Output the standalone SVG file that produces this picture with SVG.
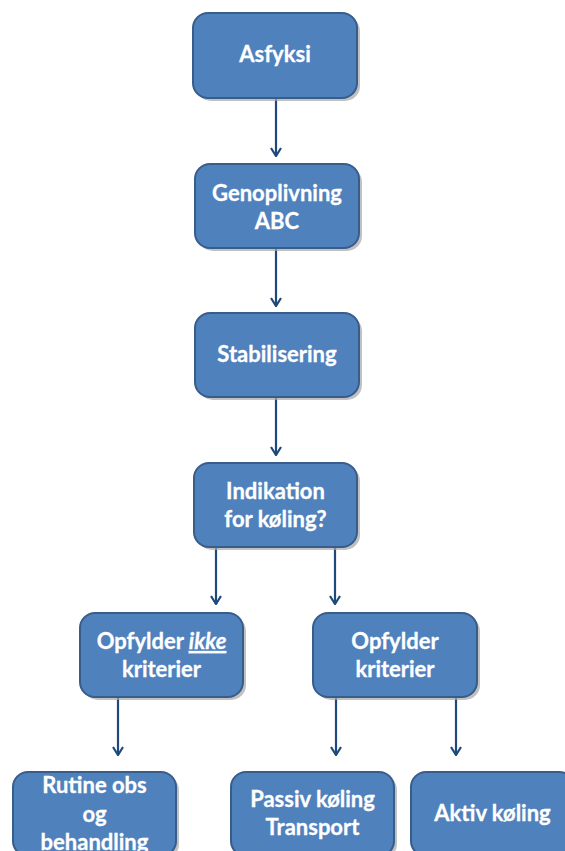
<svg xmlns="http://www.w3.org/2000/svg" width="565" height="851" viewBox="0 0 565 851">
<style>
.shadow{fill:#a6a6a6;opacity:0.7}
.box{fill:#4f81bd;stroke:#385d8a;stroke-width:2}
.lbl{font-family:Lato,"Open Sans",sans-serif;font-weight:bold;font-size:22px;fill:#ffffff;stroke:#ffffff;stroke-width:0.3;text-anchor:middle}
.conn{stroke:#1f497d;stroke-width:2.2;fill:none;marker-end:url(#arr)}
</style>
<defs>
<marker id="arr" markerWidth="10" markerHeight="12" refX="9" refY="6" orient="auto" markerUnits="userSpaceOnUse" viewBox="0 0 10 12">
<path d="M1,1 L9,6 L1,11" fill="none" stroke="#1f497d" stroke-width="2.2"/>
</marker>
</defs>
<rect width="565" height="851" fill="#ffffff"/>
<g id="connectors">
<line class="conn" x1="276" y1="98" x2="276" y2="156"/>
<line class="conn" x1="276" y1="248" x2="276" y2="306"/>
<line class="conn" x1="276" y1="397" x2="276" y2="455"/>
<line class="conn" x1="216" y1="547" x2="216" y2="604"/>
<line class="conn" x1="335" y1="547" x2="335" y2="604"/>
<line class="conn" x1="118" y1="697" x2="118" y2="755"/>
<line class="conn" x1="336" y1="697" x2="336" y2="755"/>
<line class="conn" x1="456" y1="697" x2="456" y2="755"/>
</g>
<g id="asfyksi">
<rect class="shadow" x="196" y="16" width="164" height="85" rx="15"/>
<rect class="box" x="193" y="13" width="164" height="85" rx="15"/>
<text class="lbl" x="275" y="62">Asfyksi</text>
</g>
<g id="genoplivning">
<rect class="shadow" x="198" y="167" width="164" height="84" rx="15"/>
<rect class="box" x="195" y="164" width="164" height="84" rx="15"/>
<text class="lbl" x="277" y="201">Genoplivning</text>
<text class="lbl" x="277" y="229">ABC</text>
</g>
<g id="stabilisering">
<rect class="shadow" x="198" y="316" width="164" height="84" rx="15"/>
<rect class="box" x="195" y="313" width="164" height="84" rx="15"/>
<text class="lbl" x="277" y="362">Stabilisering</text>
</g>
<g id="indikation">
<rect class="shadow" x="197" y="466" width="163" height="84" rx="15"/>
<rect class="box" x="194" y="463" width="163" height="84" rx="15"/>
<text class="lbl" x="275.5" y="499">Indikation</text>
<text class="lbl" x="275.5" y="527">for køling?</text>
</g>
<g id="opfylder-ikke">
<rect class="shadow" x="83" y="616" width="163" height="84" rx="15"/>
<rect class="box" x="80" y="613" width="163" height="84" rx="15"/>
<text class="lbl" x="161.5" y="649">Opfylder <tspan font-style="italic" text-decoration="underline">ikke</tspan></text>
<text class="lbl" x="161.5" y="677">kriterier</text>
</g>
<g id="opfylder">
<rect class="shadow" x="316" y="616" width="164" height="84" rx="15"/>
<rect class="box" x="313" y="613" width="164" height="84" rx="15"/>
<text class="lbl" x="395" y="649">Opfylder</text>
<text class="lbl" x="395" y="677">kriterier</text>
</g>
<g id="rutine">
<rect class="shadow" x="16" y="775" width="163" height="84" rx="15"/>
<rect class="box" x="13" y="772" width="163" height="84" rx="15"/>
<text class="lbl" x="94.5" y="793">Rutine obs</text>
<text class="lbl" x="94.5" y="822">og</text>
<text class="lbl" x="94.5" y="850">behandling</text>
</g>
<g id="passiv">
<rect class="shadow" x="234" y="775" width="163" height="84" rx="15"/>
<rect class="box" x="231" y="772" width="163" height="84" rx="15"/>
<text class="lbl" x="312.5" y="807">Passiv køling</text>
<text class="lbl" x="312.5" y="835">Transport</text>
</g>
<g id="aktiv">
<rect class="shadow" x="414" y="775" width="163" height="84" rx="15"/>
<rect class="box" x="411" y="772" width="163" height="84" rx="15"/>
<text class="lbl" x="492.5" y="821">Aktiv køling</text>
</g>
</svg>
